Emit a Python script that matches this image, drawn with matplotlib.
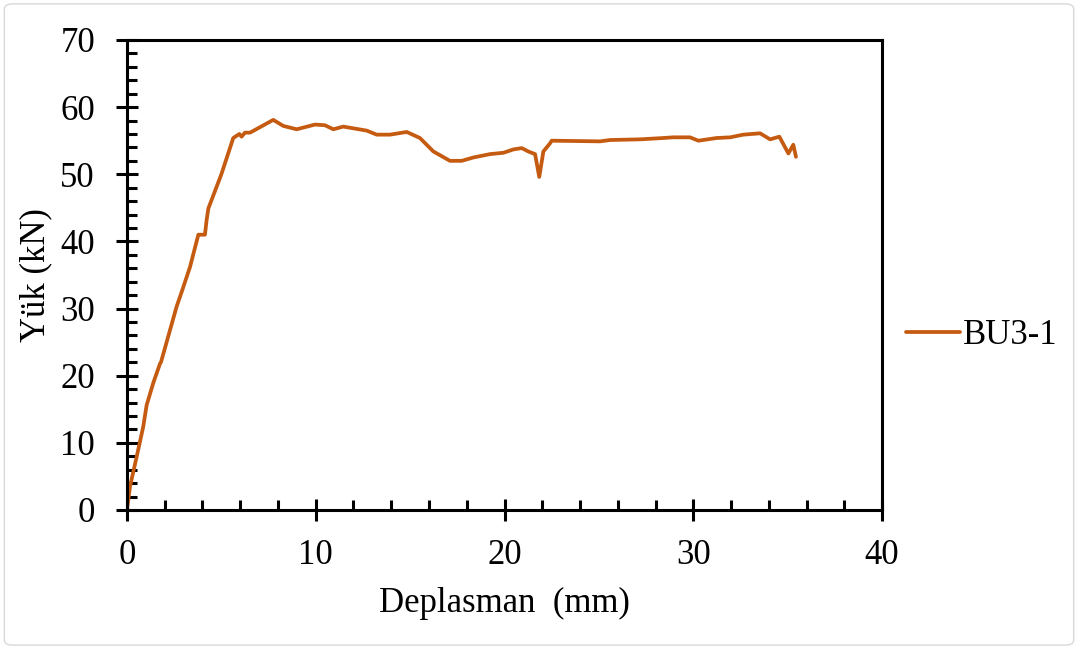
import matplotlib
matplotlib.use("Agg")
import matplotlib.pyplot as plt
from matplotlib.ticker import MultipleLocator
from matplotlib.patches import FancyBboxPatch

disp = [0.0, 0.16, 0.51, 0.69, 0.86, 1.04, 1.39, 1.75, 1.80, 2.28, 2.63, 2.90, 3.34, 3.78,
        4.13, 4.22, 4.31, 5.00, 5.63, 5.95, 6.07, 6.25, 6.52, 7.75, 8.28, 8.99, 9.96,
        10.49, 10.93, 11.46, 12.70, 13.23, 13.93, 14.82, 15.52, 16.23, 17.11, 17.73,
        18.35, 19.23, 19.94, 20.47, 20.91, 21.26, 21.62, 21.84, 22.06, 22.41, 22.50,
        25.06, 25.59, 27.18, 28.41, 28.94, 29.83, 30.27, 31.24, 31.95, 32.65, 33.54,
        34.07, 34.56, 35.04, 35.30, 35.44]
load = [0.0, 3.5, 7.9, 10.2, 12.4, 15.6, 18.9, 21.8, 22.0, 26.8, 30.3, 32.5, 36.2, 41.0,
        41.0, 43.2, 44.9, 50.0, 55.4, 56.0, 55.6, 56.2, 56.2, 58.1, 57.2, 56.7, 57.4,
        57.3, 56.7, 57.1, 56.5, 55.9, 55.9, 56.3, 55.4, 53.4, 52.0, 52.0,
        52.5, 53.0, 53.2, 53.7, 53.9, 53.4, 53.0, 49.6, 53.4, 54.6, 55.0,
        54.9, 55.1, 55.2, 55.4, 55.5, 55.5, 55.0, 55.4, 55.5, 55.9, 56.1,
        55.2, 55.6, 53.1, 54.4, 52.6]
series_name = "BU3-1"

plt.rcParams['font.family'] = ['Liberation Serif', 'DejaVu Serif']

fig = plt.figure(figsize=(10.78, 6.49), dpi=100)
fig.patches.append(FancyBboxPatch((0.004, 0.006), 0.992, 0.988, boxstyle="round,pad=0,rounding_size=0.008",
                                  transform=fig.transFigure, facecolor='white', edgecolor='#d9d9d9',
                                  linewidth=1.0, zorder=-10))
ax = fig.add_axes([0.1178, 0.2142, 0.7004, 0.7242])
ax.plot(disp, load, color='#C55A11', linewidth=2.7, label=series_name,
        solid_joinstyle='round', solid_capstyle='round')

ax.set_xlim(0, 40)
ax.set_ylim(0, 70)
ax.xaxis.set_major_locator(MultipleLocator(10))
ax.xaxis.set_minor_locator(MultipleLocator(2))
ax.yaxis.set_major_locator(MultipleLocator(10))
ax.yaxis.set_minor_locator(MultipleLocator(2))
for s in ax.spines.values():
    s.set_linewidth(2.2)
    s.set_color('black')
ax.tick_params(which='major', direction='inout', length=16, width=2.2, labelsize=25, colors='black')
ax.tick_params(axis='x', which='major', pad=13)
ax.tick_params(axis='y', which='major', pad=15)
ax.tick_params(which='minor', direction='in', length=7, width=2.2)
ax.tick_params(top=False, right=False, which='both')

ax.set_xlabel("Deplasman  (mm)", fontsize=25, labelpad=11)
ax.set_ylabel("Yük (kN)", fontsize=25, labelpad=6)

fig.legend(loc='center left', bbox_to_anchor=(0.8404, 0.4823), frameon=False, fontsize=25,
           handlelength=1.55, handletextpad=0.09, borderpad=0, borderaxespad=0)

fig.savefig("out.png", dpi=100, facecolor='white')
